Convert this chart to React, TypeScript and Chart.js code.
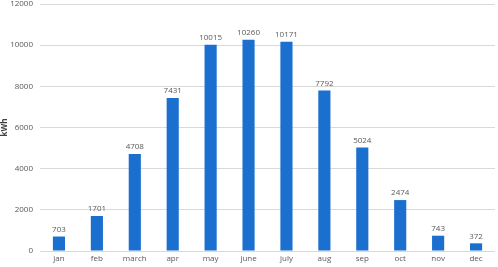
import React, { useEffect, useRef } from "react";
import { Chart, registerables } from "chart.js";

Chart.register(...registerables);

const categories = ["jan", "feb", "march", "apr", "may", "june", "july", "aug", "sep", "oct", "nov", "dec"];
const values = [703, 1701, 4708, 7431, 10015, 10260, 10171, 7792, 5024, 2474, 743, 372];
const yTicks = [0, 2000, 4000, 6000, 8000, 10000, 12000];

const FONT = "'Open Sans', 'Noto Sans', sans-serif";
const GRAY = "#595959";

const labelPlugin = {
  id: "barLabels",
  afterDatasetsDraw(chart: any) {
    const ctx = chart.ctx;
    const meta = chart.getDatasetMeta(0);
    ctx.save();
    ctx.font = `8px ${FONT}`;
    ctx.fillStyle = GRAY;
    ctx.textAlign = "center";
    ctx.textBaseline = "bottom";
    meta.data.forEach((el: any, i: number) => {
      ctx.fillText(String(values[i]), el.x, el.y - 3);
    });
    ctx.restore();
  },
};

export default function App() {
  const ref = useRef<HTMLCanvasElement>(null);
  useEffect(() => {
    document.body.style.margin = "0";
    const chart = new Chart(ref.current!, {
      type: "bar",
      data: {
        labels: categories,
        datasets: [
          {
            data: values,
            backgroundColor: "#1a6fcf",
            barPercentage: 0.64,
            categoryPercentage: 0.5,
          },
        ],
      },
      options: {
        responsive: false,
        animation: false,
        layout: { padding: { top: 0, right: 3, left: 0, bottom: 0 } },
        plugins: { legend: { display: false }, tooltip: { enabled: false } },
        scales: {
          x: {
            grid: { display: false, drawTicks: false },
            border: { display: false },
            ticks: { color: GRAY, font: { family: FONT, size: 8 }, padding: 3 },
            afterFit(scale: any) {
              scale.height = 16;
            },
          },
          y: {
            min: 0,
            max: 12000,
            afterBuildTicks(scale: any) {
              scale.ticks = yTicks.map((v) => ({ value: v }));
            },
            grid: { color: "#d9d9d9", drawTicks: false },
            border: { display: false },
            ticks: {
              color: GRAY,
              font: { family: FONT, size: 8 },
              padding: 7,
              callback: (v: any) => String(v),
            },
            title: {
              display: true,
              text: "kWh",
              color: "#404040",
              font: { family: FONT, size: 8, weight: "bold" },
              padding: 0,
            },
            afterFit(scale: any) {
              scale.width = 40;
              scale.paddingTop = 4;
              scale.paddingBottom = 0;
            },
          },
        },
      },
      plugins: [labelPlugin],
    });
    return () => chart.destroy();
  }, []);
  return <canvas ref={ref} width={498} height={267} style={{ display: "block" }} />;
}
